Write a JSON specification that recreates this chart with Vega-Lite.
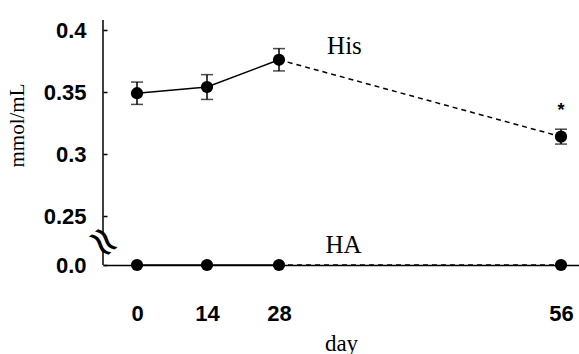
{
  "$schema": "https://vega.github.io/schema/vega-lite/v6.json",
  "width": 476,
  "height": 245,
  "autosize": "none",
  "padding": {"left": 103, "top": 20, "right": 0, "bottom": 89},
  "background": "white",
  "config": {"view": {"stroke": null}},
  "datasets": {
    "pts": [
      {"series": "His", "day": 0, "value": 0.349, "lo": 0.340, "hi": 0.358},
      {"series": "His", "day": 14, "value": 0.354, "lo": 0.344, "hi": 0.364},
      {"series": "His", "day": 28, "value": 0.376, "lo": 0.367, "hi": 0.385},
      {"series": "His", "day": 56, "value": 0.314, "lo": 0.308, "hi": 0.320},
      {"series": "HA", "day": 0, "value": 0.0, "lo": 0.0, "hi": 0.0},
      {"series": "HA", "day": 14, "value": 0.0, "lo": 0.0, "hi": 0.0},
      {"series": "HA", "day": 28, "value": 0.0, "lo": 0.0, "hi": 0.0},
      {"series": "HA", "day": 56, "value": 0.0, "lo": 0.0, "hi": 0.0}
    ],
    "yaxis": [
      {"day": -6.8, "from": 0.408, "to": 0.153},
      {"day": -6.8, "from": 0.0765, "to": 0.0}
    ],
    "labels": [
      {"day": 34.5, "value": 0.387, "text": "His"},
      {"day": 34.4, "value": 0.102, "text": "HA"}
    ],
    "star": [{"day": 56, "value": 0.335, "text": "*"}],
    "brk": [{"day": -6.8, "value": 0.117, "text": "≈"}]
  },
  "layer": [
    {
      "data": {"name": "yaxis"},
      "mark": {"type": "rule", "color": "black", "strokeWidth": 1.5},
      "encoding": {
        "x": {"field": "day", "type": "quantitative"},
        "y": {"field": "from", "type": "quantitative"},
        "y2": {"field": "to"}
      }
    },
    {
      "data": {"name": "pts"},
      "transform": [{"filter": "datum.day <= 28"}],
      "mark": {"type": "line", "color": "black", "strokeWidth": 1.5},
      "encoding": {
        "x": {"field": "day", "type": "quantitative"},
        "y": {"field": "value", "type": "quantitative"},
        "detail": {"field": "series"}
      }
    },
    {
      "data": {"name": "pts"},
      "transform": [{"filter": "datum.day >= 28"}],
      "mark": {"type": "line", "color": "black", "strokeWidth": 1.5, "strokeDash": [5, 4]},
      "encoding": {
        "x": {"field": "day", "type": "quantitative"},
        "y": {"field": "value", "type": "quantitative"},
        "detail": {"field": "series"}
      }
    },
    {
      "data": {"name": "pts"},
      "transform": [{"filter": "datum.series == 'His'"}],
      "mark": {"type": "rule", "color": "black", "strokeWidth": 1.5},
      "encoding": {
        "x": {"field": "day", "type": "quantitative"},
        "y": {"field": "lo", "type": "quantitative"},
        "y2": {"field": "hi"}
      }
    },
    {
      "data": {"name": "pts"},
      "transform": [{"filter": "datum.series == 'His'"}],
      "mark": {"type": "tick", "color": "black", "orient": "horizontal", "size": 12, "thickness": 1.5},
      "encoding": {
        "x": {"field": "day", "type": "quantitative"},
        "y": {"field": "lo", "type": "quantitative"}
      }
    },
    {
      "data": {"name": "pts"},
      "transform": [{"filter": "datum.series == 'His'"}],
      "mark": {"type": "tick", "color": "black", "orient": "horizontal", "size": 12, "thickness": 1.5},
      "encoding": {
        "x": {"field": "day", "type": "quantitative"},
        "y": {"field": "hi", "type": "quantitative"}
      }
    },
    {
      "data": {"name": "pts"},
      "mark": {"type": "point", "filled": true, "color": "black", "opacity": 1, "size": 150, "shape": "circle"},
      "encoding": {
        "x": {
          "field": "day",
          "type": "quantitative",
          "scale": {"domain": [-6.8, 0, 14, 28, 56, 58.5], "range": [0, 34, 104, 176, 458, 476], "nice": false, "zero": false},
          "axis": {
            "values": [0, 14, 28, 56],
            "ticks": false,
            "grid": false,
            "domainColor": "black",
            "domainWidth": 1.5,
            "labelFont": "Liberation Sans",
            "labelFontWeight": "bold",
            "labelFontSize": 22,
            "labelColor": "black",
            "labelPadding": 38,
            "labelFlush": false,
            "title": "day",
            "titleFont": "Liberation Serif",
            "titleFontWeight": "normal",
            "titleFontSize": 23,
            "titleColor": "black",
            "titlePadding": 8
          }
        },
        "y": {
          "field": "value",
          "type": "quantitative",
          "scale": {"domain": [0, 0.25, 0.4], "range": [245, 196, 10], "nice": false, "zero": false},
          "axis": {
            "values": [0, 0.25, 0.3, 0.35, 0.4],
            "domain": false,
            "grid": false,
            "tickSize": -4,
            "tickColor": "black",
            "tickWidth": 1.5,
            "labelExpr": "datum.value === 0 ? '0.0' : '' + datum.value",
            "labelFont": "Liberation Sans",
            "labelFontWeight": "bold",
            "labelFontSize": 22,
            "labelColor": "black",
            "labelPadding": 21,
            "labelFlush": false,
            "title": "mmol/mL",
            "titleFont": "Liberation Serif",
            "titleFontWeight": "normal",
            "titleFontSize": 21,
            "titleColor": "black",
            "titleX": -76,
            "titleY": 105,
            "titleAlign": "center",
            "titleAngle": -90,
            "titleBaseline": "bottom"
          }
        }
      }
    },
    {
      "data": {"name": "labels"},
      "mark": {"type": "text", "font": "Liberation Serif", "fontSize": 25, "color": "black", "align": "center", "baseline": "middle"},
      "encoding": {
        "x": {"field": "day", "type": "quantitative"},
        "y": {"field": "value", "type": "quantitative"},
        "text": {"field": "text"}
      }
    },
    {
      "data": {"name": "star"},
      "mark": {"type": "text", "font": "Liberation Sans", "fontWeight": "bold", "fontSize": 18, "color": "black", "align": "center", "baseline": "middle"},
      "encoding": {
        "x": {"field": "day", "type": "quantitative"},
        "y": {"field": "value", "type": "quantitative"},
        "text": {"field": "text"}
      }
    },
    {
      "data": {"name": "brk"},
      "mark": {"type": "text", "font": "DejaVu Sans", "fontSize": 42, "color": "black", "align": "center", "baseline": "middle", "angle": 50},
      "encoding": {
        "x": {"field": "day", "type": "quantitative"},
        "y": {"field": "value", "type": "quantitative"},
        "text": {"field": "text"}
      }
    }
  ]
}
